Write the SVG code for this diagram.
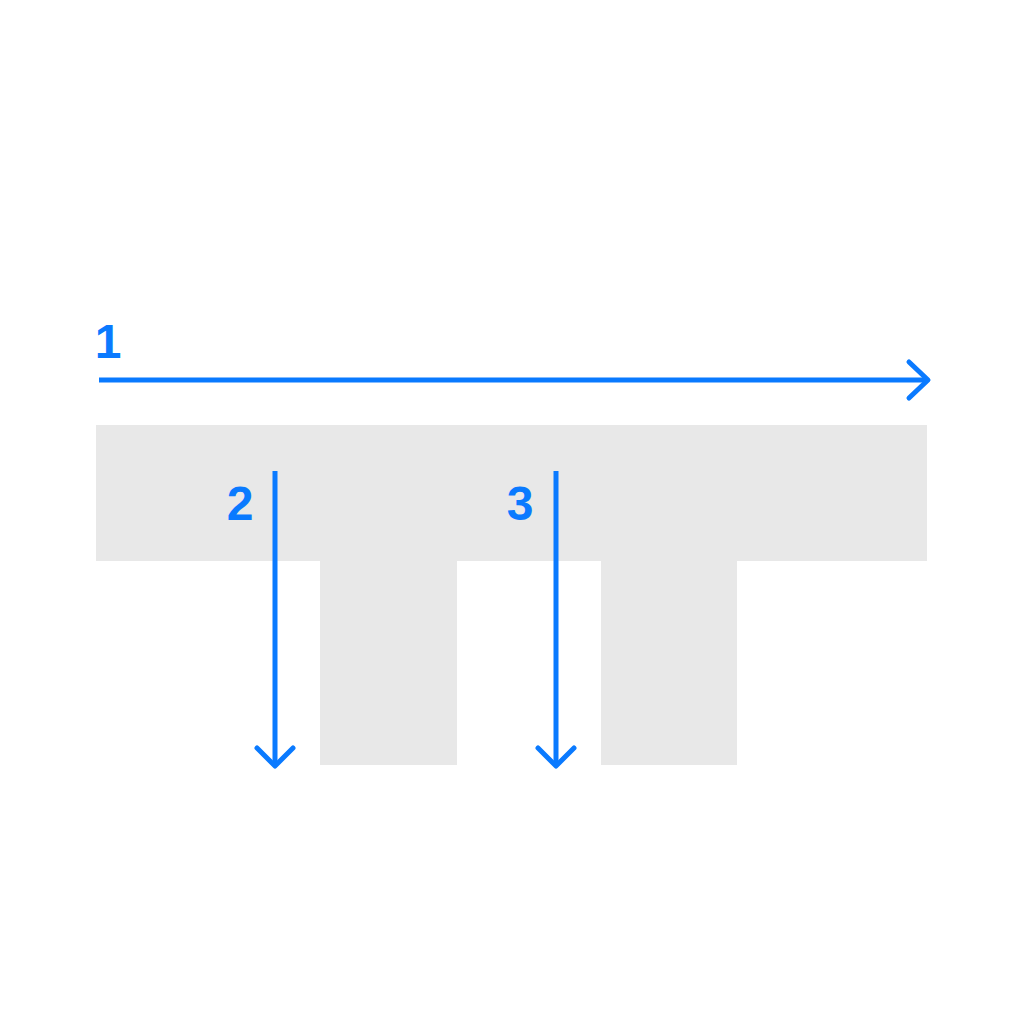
<svg xmlns="http://www.w3.org/2000/svg" width="1024" height="1027" viewBox="0 0 1024 1027">
<style>
.shape{fill:#E8E8E8}
.arr{fill:none;stroke:#0A7AFF;stroke-width:5;stroke-linecap:round;stroke-linejoin:round}
.lbl{font-family:"Liberation Sans",Arial,sans-serif;font-weight:bold;font-size:48px;fill:#0A7AFF;text-anchor:middle}
</style>
<rect width="1024" height="1027" fill="#FFFFFF"/>
<g id="section">
<path class="shape" d="M96 425H927V561H737V765H601V561H457V765H320V561H96Z"/>
</g>
<g id="connectors">
<g id="arrow1">
<path class="arr" d="M99 380H928" style="stroke-linecap:butt"/>
<path class="arr" d="M909 362L928 380L909 398"/>
</g>
<g id="arrow2">
<path class="arr" d="M275 471V765" style="stroke-linecap:butt"/>
<path class="arr" d="M257 748L275 766L293 748"/>
</g>
<g id="arrow3">
<path class="arr" d="M556 471V765" style="stroke-linecap:butt"/>
<path class="arr" d="M538 748L556 766L574 748"/>
</g>
</g>
<g id="labels">
<text class="lbl" x="108" y="358">1</text>
<text class="lbl" x="240" y="520">2</text>
<text class="lbl" x="520" y="520">3</text>
</g>
</svg>
